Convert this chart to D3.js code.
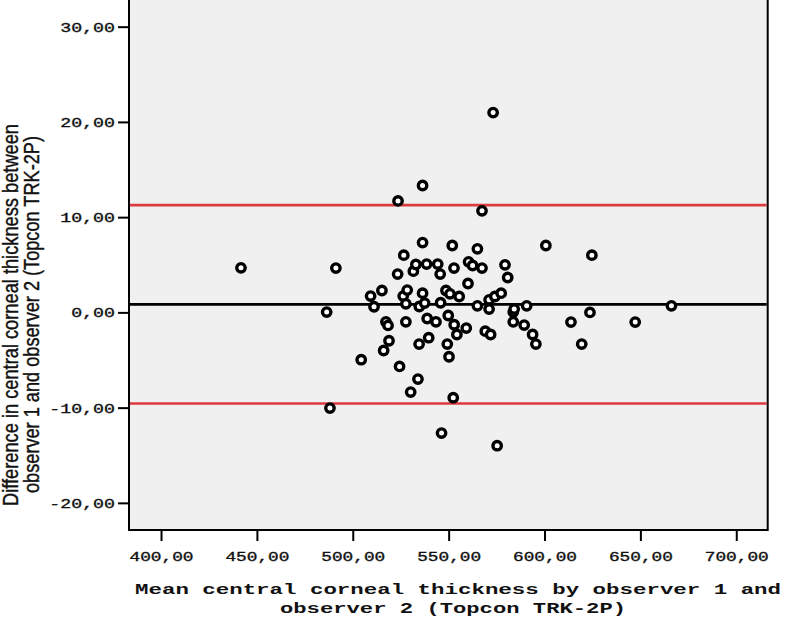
<!DOCTYPE html>
<html>
<head>
<meta charset="utf-8">
<script src="https://cdn.jsdelivr.net/npm/d3@7"></script>
<style>
  html, body { margin: 0; padding: 0; background: #ffffff; }
  svg { display: block; }
</style>
</head>
<body>
<script>
// ---- Data ----
const meanThickness = [
  441.7, 491.2, 486.4, 488.1, 504.4, 509.3, 511.1, 515.2, 516.1, 517.3,
  518.4, 518.9, 523.4, 523.6, 524.4, 526.3, 526.6, 527.7, 527.7, 528.4,
  530.2, 531.6, 532.9, 534.0, 534.6, 534.7, 536.4, 536.4, 536.4, 537.5,
  538.5, 538.8, 539.6, 543.4, 544.3, 545.6, 545.8, 546.3, 548.6, 549.3,
  549.8, 550.2, 550.7, 551.9, 552.4, 552.8, 552.9, 554.3, 555.5, 559.2,
  560.1, 560.4, 562.5, 565.0, 565.0, 567.4, 567.4, 569.1, 571.1, 571.1,
  571.9, 573.2, 574.1, 575.3, 577.4, 579.4, 580.8, 583.7, 583.7, 584.2,
  589.4, 590.7, 593.8, 595.5, 600.7, 613.8, 619.4, 623.7, 624.7, 647.3,
  666.2
];
const differences = [
  4.68, 4.65, 0.03, -10.05, -4.97, 1.71, 0.59, 2.30, -4.00, -0.99,
  -1.37, -2.98, 4.02, 11.70, -5.67, 1.71, 6.01, 0.90, -0.99, 2.34,
  -8.37, 4.33, 5.03, -7.00, -3.33, 0.62, 13.32, 7.33, 2.02, 0.98,
  5.07, -0.64, -2.66, -0.99, 5.07, 4.02, 1.01, -12.67, 2.30, -3.33,
  -0.33, -4.66, 1.95, 7.02, -8.96, 4.65, -1.30, -2.32, 1.67, -1.65,
  3.03, 5.31, 4.92, 6.67, 0.69, 10.66, 4.65, -1.97, 1.32, 0.35,
  -2.32, 20.98, 1.67, -14.00, 2.02, 4.99, 3.66, 0.03, -0.99, 0.35,
  -1.33, 0.69, -2.32, -3.33, 7.02, -1.02, -3.33, 0.00, 6.01, -1.02,
  0.69
];
const meanDifference = 0.85;
const limitsOfAgreement = [11.26, -9.56];

const xTicks = [400, 450, 500, 550, 600, 650, 700];
const yTicks = [-20, -10, 0, 10, 20, 30];
const xTickLabels = ["400,00", "450,00", "500,00", "550,00", "600,00", "650,00", "700,00"];
const yTickLabels = ["-20,00", "-10,00", "0,00", "10,00", "20,00", "30,00"];

const xTitleLines = ["Mean central corneal thickness by observer 1 and", "observer 2 (Topcon TRK-2P)"];
const yTitleLines = ["Difference in central corneal thickness between", "observer 1 and observer 2 (Topcon TRK-2P)"];

// ---- Layout ----
const W = 785, H = 621;
const plot = { left: 129, right: 767.7, top: 0, bottom: 530 };

const x = d3.scaleLinear().domain([383.3, 716.4]).range([plot.left, plot.right]);
const y = d3.scaleLinear().domain([-22.85, 32.8]).range([plot.bottom, plot.top]);

const svg = d3.select("body").append("svg").attr("width", W).attr("height", H);

// plot background + frame
svg.append("rect")
  .attr("x", plot.left).attr("y", -3)
  .attr("width", plot.right - plot.left).attr("height", plot.bottom + 3)
  .attr("fill", "#f0f0f0").attr("stroke", "#000").attr("stroke-width", 2);

const mono = "'Liberation Mono', 'Courier New', monospace";

// x axis
const xAxis = d3.axisBottom(x).tickValues(xTicks).tickSize(11)
  .tickFormat((d, i) => xTickLabels[i]);
const gx = svg.append("g").attr("transform", `translate(0,${plot.bottom})`).call(xAxis);
gx.select(".domain").remove();
gx.selectAll(".tick line").attr("stroke", "#000").attr("stroke-width", 2);
gx.selectAll(".tick text")
  .attr("y", 0).attr("dy", 0)
  .attr("transform", "translate(0,31)")
  .attr("font-family", mono).attr("font-size", 13).attr("fill", "#111")
  .attr("stroke", "#111").attr("stroke-width", 0.35)
  .attr("textLength", 64).attr("lengthAdjust", "spacingAndGlyphs");

// y axis
const yAxis = d3.axisLeft(y).tickValues(yTicks).tickSize(11)
  .tickFormat((d, i) => yTickLabels[i]);
const gy = svg.append("g").attr("transform", `translate(${plot.left},0)`).call(yAxis);
gy.select(".domain").remove();
gy.selectAll(".tick line").attr("stroke", "#000").attr("stroke-width", 2);
gy.selectAll(".tick text")
  .attr("x", -14).attr("dy", 0)
  .attr("transform", "translate(0,4.5)")
  .attr("font-family", mono).attr("font-size", 13).attr("fill", "#111")
  .attr("stroke", "#111").attr("stroke-width", 0.35)
  .each(function(d, i) {
    d3.select(this).attr("textLength", yTickLabels[i].length * 10.95)
      .attr("lengthAdjust", "spacingAndGlyphs");
  });

// reference lines
const clipId = "plotclip";
svg.append("clipPath").attr("id", clipId).append("rect")
  .attr("x", plot.left + 1).attr("y", 0)
  .attr("width", plot.right - plot.left - 2).attr("height", plot.bottom - 1);

const lines = svg.append("g").attr("clip-path", `url(#${clipId})`);
lines.selectAll("line.loa").data(limitsOfAgreement).join("line")
  .attr("class", "loa")
  .attr("x1", plot.left).attr("x2", plot.right)
  .attr("y1", d => y(d)).attr("y2", d => y(d))
  .attr("stroke", "#dc3a3f").attr("stroke-width", 2.6);
lines.append("line")
  .attr("x1", plot.left).attr("x2", plot.right)
  .attr("y1", y(meanDifference)).attr("y2", y(meanDifference))
  .attr("stroke", "#000").attr("stroke-width", 2.7);

// points
const pts = meanThickness.map((m, i) => ({ m, d: differences[i] }));
lines.selectAll("circle").data(pts).join("circle")
  .attr("cx", p => x(p.m)).attr("cy", p => y(p.d))
  .attr("r", 4.2)
  .attr("fill", "#ffffff").attr("stroke", "#000").attr("stroke-width", 3.4);

// x title
svg.append("text").attr("x", 458).attr("y", 594)
  .attr("text-anchor", "middle").attr("font-family", mono).attr("font-weight", "bold")
  .attr("font-size", 14).attr("fill", "#111")
  .attr("textLength", 646).attr("lengthAdjust", "spacingAndGlyphs")
  .text(xTitleLines[0]);
svg.append("text").attr("x", 453).attr("y", 613)
  .attr("text-anchor", "middle").attr("font-family", mono).attr("font-weight", "bold")
  .attr("font-size", 14).attr("fill", "#111")
  .attr("textLength", 346).attr("lengthAdjust", "spacingAndGlyphs")
  .text(xTitleLines[1]);

// y title (rotated, slightly stretched)
const sans = "'Liberation Sans', Arial, sans-serif";
const yTitle = [
  { text: yTitleLines[0], bx: 18, cy: 315, len: 382 },
  { text: yTitleLines[1], bx: 39, cy: 314.5, len: 357 }
];
yTitle.forEach(t => {
  svg.append("text")
    .attr("transform", `translate(${t.bx},${t.cy}) rotate(-90) scale(1,1.35)`)
    .attr("x", 0).attr("y", 0)
    .attr("text-anchor", "middle").attr("font-family", sans)
    .attr("font-size", 16).attr("fill", "#111")
    .attr("stroke", "#111").attr("stroke-width", 0.3)
    .attr("textLength", t.len).attr("lengthAdjust", "spacingAndGlyphs")
    .text(t.text);
});
</script>
</body>
</html>
